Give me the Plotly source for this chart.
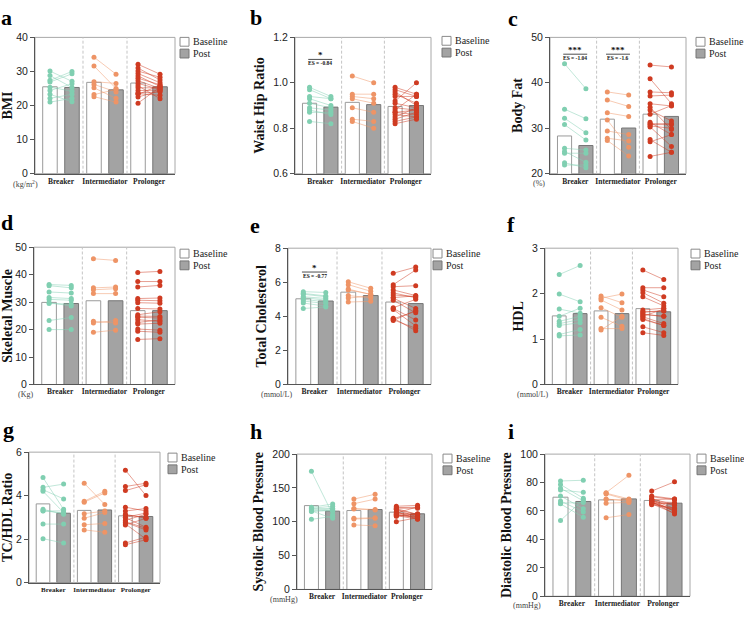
import plotly.graph_objects as go

W, H = 744, 617
groups = ["Breaker", "Intermediator", "Prolonger"]
group_pos = [1, 2, 3]
group_colors = ["#80cfb1", "#ee9466", "#cf3b22"]

# ---- a: BMI ----
bmi_breaker_base = [30.1, 28.8, 27.4, 26.9, 25.4, 24.4, 23.3, 22.1, 21.0]
bmi_breaker_post = [27.1, 25.3, 30.0, 29.3, 24.2, 26.4, 21.1, 23.3, 22.1]
bmi_inter_base = [34.2, 31.6, 27.0, 26.2, 25.2, 23.2, 22.6]
bmi_inter_post = [29.2, 25.0, 26.5, 24.0, 22.1, 24.7, 21.0]
bmi_prol_base = [32.1, 31.0, 30.1, 29.4, 28.7, 28.0, 27.3, 26.5, 25.8, 25.2, 24.4, 23.7, 23.3, 23.5, 22.5, 20.7]
bmi_prol_post = [29.2, 27.5, 28.3, 26.7, 25.6, 26.1, 25.0, 24.7, 22.0, 25.2, 24.5, 24.0, 25.9, 23.0, 24.3, 25.4]
bmi_mean_base = [25.5, 26.8, 26.6]
bmi_mean_post = [25.3, 24.6, 25.5]

# ---- b: Waist Hip Ratio ----
whr_breaker_base = [0.98, 0.97, 0.94, 0.93, 0.91, 0.89, 0.88, 0.87, 0.83]
whr_breaker_post = [0.94, 0.93, 0.93, 0.90, 0.89, 0.88, 0.86, 0.87, 0.82]
whr_inter_base = [1.03, 0.95, 0.94, 0.93, 0.89, 0.84, 0.83]
whr_inter_post = [1.00, 0.95, 0.93, 0.91, 0.87, 0.83, 0.80]
whr_prol_base = [0.98, 0.97, 0.96, 0.95, 0.94, 0.92, 0.91, 0.89, 0.88, 0.87, 0.86, 0.85, 0.84, 0.83, 0.82, 0.87]
whr_prol_post = [0.95, 0.94, 0.90, 0.91, 0.94, 1.00, 0.89, 0.88, 0.95, 0.86, 0.85, 0.89, 0.87, 0.85, 0.84, 0.88]
whr_mean_base = [0.91, 0.914, 0.896]
whr_mean_post = [0.893, 0.904, 0.90]

# ---- c: Body Fat ----
fat_breaker_base = [44.2, 34.2, 32.2, 30.8, 25.6, 24.9, 24.5, 22.4, 21.9]
fat_breaker_post = [38.7, 32.1, 29.0, 27.4, 25.2, 22.5, 24.5, 21.3, 21.9]
fat_inter_base = [38.0, 36.2, 33.4, 31.8, 29.4, 27.8, 27.3]
fat_inter_post = [37.3, 34.8, 32.6, 25.8, 28.6, 27.2, 23.9]
fat_prol_base = [43.9, 40.9, 38.0, 37.1, 35.4, 34.6, 34.0, 33.1, 31.3, 30.8, 30.3, 27.5, 27.0, 23.8, 31.0, 30.5]
fat_prol_post = [43.5, 35.4, 37.8, 37.3, 34.9, 29.7, 31.6, 35.0, 28.6, 30.8, 26.0, 24.7, 28.6, 24.7, 31.0, 30.0]
fat_mean_base = [28.3, 32.0, 33.1]
fat_mean_post = [26.2, 30.05, 32.6]

# ---- d: Skeletal Muscle ----
sm_breaker_base = [36.4, 36.0, 33.7, 31.7, 31.0, 29.8, 29.5, 23.3, 20.0]
sm_breaker_post = [36.1, 35.2, 33.3, 31.3, 30.7, 28.6, 29.3, 24.4, 20.0]
sm_inter_base = [45.8, 35.2, 34.5, 33.1, 23.0, 22.4, 19.0]
sm_inter_post = [45.2, 35.5, 34.9, 33.1, 22.4, 23.3, 19.8]
sm_prol_base = [40.8, 37.5, 35.5, 31.3, 30.7, 29.8, 27.7, 25.4, 24.9, 24.5, 23.6, 22.6, 20.2, 19.4, 16.4, 22.0]
sm_prol_post = [41.2, 37.5, 36.1, 31.5, 30.5, 29.6, 27.5, 26.5, 24.8, 24.2, 23.0, 23.5, 19.8, 19.0, 16.7, 22.3]
sm_mean_base = [29.9, 30.5, 26.9]
sm_mean_post = [29.5, 30.5, 26.9]

# ---- e: Total Cholesterol ----
tc_breaker_base = [5.45, 5.35, 5.30, 5.15, 5.10, 5.00, 4.90, 4.78, 4.46]
tc_breaker_post = [5.40, 5.20, 5.15, 5.05, 4.95, 4.85, 4.75, 4.60, 4.55]
tc_inter_base = [6.03, 5.86, 5.60, 5.55, 5.22, 5.07, 4.84]
tc_inter_post = [5.65, 5.47, 5.28, 5.30, 5.09, 5.20, 4.88]
tc_prol_base = [6.53, 5.86, 5.74, 5.55, 5.38, 5.26, 5.07, 4.94, 4.46, 4.40, 3.89, 3.85, 3.75, 4.50, 5.10, 3.80]
tc_prol_post = [6.89, 6.72, 5.80, 5.22, 5.09, 5.15, 4.46, 4.21, 3.79, 3.44, 3.16, 4.30, 4.35, 5.00, 5.20, 3.30]
tc_mean_base = [5.03, 5.42, 4.84]
tc_mean_post = [4.90, 5.22, 4.75]

# ---- f: HDL ----
hdl_breaker_base = [2.42, 1.99, 1.66, 1.50, 1.39, 1.34, 1.30, 1.10, 1.07]
hdl_breaker_post = [2.62, 1.82, 1.57, 1.68, 1.50, 1.43, 1.36, 1.21, 1.09]
hdl_inter_base = [1.95, 1.90, 1.86, 1.69, 1.48, 1.23, 1.20]
hdl_inter_post = [1.80, 1.99, 1.64, 1.48, 1.28, 1.23, 1.50]
hdl_prol_base = [2.52, 2.13, 2.08, 2.02, 1.93, 1.64, 1.59, 1.54, 1.49, 1.43, 1.27, 1.14, 1.55, 1.60, 1.45, 1.50]
hdl_prol_post = [2.31, 2.13, 1.93, 1.79, 1.73, 1.68, 1.62, 1.50, 1.34, 1.30, 1.14, 1.08, 1.50, 1.62, 1.30, 1.66]
hdl_mean_base = [1.51, 1.62, 1.67]
hdl_mean_post = [1.56, 1.56, 1.60]

# ---- g: TC/HDL Ratio ----
ratio_breaker_base = [4.83, 4.38, 4.27, 4.20, 3.37, 3.29, 3.30, 2.69, 2.02]
ratio_breaker_post = [3.37, 4.53, 3.85, 3.22, 3.14, 3.30, 3.20, 2.69, 1.82]
ratio_inter_base = [4.57, 3.74, 3.70, 3.17, 2.96, 2.66, 2.42]
ratio_inter_post = [3.59, 4.20, 4.12, 3.29, 3.22, 2.72, 2.32]
ratio_prol_base = [5.17, 4.42, 4.23, 3.47, 3.29, 3.14, 2.99, 2.87, 2.77, 2.65, 1.82, 1.74, 3.00, 2.80, 2.70, 3.10]
ratio_prol_post = [4.00, 4.57, 4.50, 3.29, 3.41, 2.96, 2.54, 3.14, 2.42, 2.96, 2.09, 1.97, 3.20, 2.50, 2.00, 3.00]
ratio_mean_base = [3.62, 3.32, 3.07]
ratio_mean_post = [3.19, 3.34, 3.04]

# ---- h: Systolic Blood Pressure ----
sbp_breaker_base = [174.5, 121.4, 120.0, 119.5, 118.0, 116.6, 116.0, 115.0, 103.6]
sbp_breaker_post = [110.8, 126.3, 122.9, 119.5, 115.7, 119.0, 105.1, 117.0, 108.0]
sbp_inter_base = [133.5, 126.7, 119.5, 119.0, 105.1, 104.0, 95.4]
sbp_inter_post = [140.7, 133.5, 118.1, 117.5, 106.0, 105.1, 94.0]
sbp_prol_base = [122.9, 121.0, 119.5, 118.0, 115.0, 113.3, 112.0, 111.0, 110.0, 109.9, 109.0, 108.0, 113.0, 118.0, 100.2, 120.0]
sbp_prol_post = [124.3, 121.4, 110.8, 107.0, 103.6, 110.0, 111.0, 108.0, 106.0, 107.0, 104.0, 112.0, 122.0, 110.8, 106.0, 120.0]
sbp_mean_base = [123.9, 116.6, 114.2]
sbp_mean_post = [115.7, 118.1, 111.8]

# ---- i: Diastolic Blood Pressure ----
dbp_breaker_base = [81.1, 78.6, 76.0, 74.7, 70.6, 67.1, 65.5, 65.0, 53.3]
dbp_breaker_post = [81.6, 69.0, 67.1, 73.1, 61.6, 59.3, 66.0, 55.6, 68.0]
dbp_inter_base = [72.9, 72.5, 68.5, 68.0, 72.0, 55.2, 65.5]
dbp_inter_post = [85.1, 68.5, 66.7, 68.0, 67.5, 57.5, 66.0]
dbp_prol_base = [74.0, 70.6, 68.5, 68.0, 67.5, 66.7, 66.5, 66.0, 65.5, 65.5, 65.0, 64.4, 68.0, 67.0, 66.0, 70.0]
dbp_prol_post = [80.5, 68.5, 64.4, 61.6, 59.8, 57.9, 66.0, 61.0, 60.0, 65.0, 58.5, 62.0, 68.5, 64.0, 60.5, 68.0]
dbp_mean_base = [69.7, 67.8, 67.4]
dbp_mean_post = [66.7, 68.5, 65.5]

# panel configuration (layout in pixels)
panels = [
    dict(letter="a", title="BMI", unit="(kg/m<sup>2</sup>)", yr=[0, 40], dt=10, fmt="",
         box=(35, 175, 32, 171), leg=(180, 32), lpos=(6, 12), upos=(25, 182), xfs=7.5,
         data=[(bmi_breaker_base, bmi_breaker_post), (bmi_inter_base, bmi_inter_post), (bmi_prol_base, bmi_prol_post)],
         means=(bmi_mean_base, bmi_mean_post), sig=[]),
    dict(letter="b", title="Waist Hip Ratio", unit=None, yr=[0.6, 1.2], dt=0.2, fmt=".1f",
         box=(295, 431, 32, 171), leg=(442, 31), lpos=(256, 12), upos=None, xfs=7.5,
         data=[(whr_breaker_base, whr_breaker_post), (whr_inter_base, whr_inter_post), (whr_prol_base, whr_prol_post)],
         means=(whr_mean_base, whr_mean_post), sig=[(0, "*", "ES = -0.84", 1.103)]),
    dict(letter="c", title="Body Fat", unit="(%)", yr=[20, 50], dt=10, fmt="",
         box=(550, 686, 32, 171), leg=(696, 32), lpos=(513, 13), upos=(539, 181), xfs=7.5,
         data=[(fat_breaker_base, fat_breaker_post), (fat_inter_base, fat_inter_post), (fat_prol_base, fat_prol_post)],
         means=(fat_mean_base, fat_mean_post),
         sig=[(0, "***", "ES = -1.04", 46.3), (1, "***", "ES = -1.6", 46.3)]),
    dict(letter="d", title="Skeletal Muscle", unit="(Kg)", yr=[0, 50], dt=10, fmt="",
         box=(34, 175, 246, 386), leg=(180, 248), lpos=(7, 221), upos=(26, 396), xfs=7.5,
         data=[(sm_breaker_base, sm_breaker_post), (sm_inter_base, sm_inter_post), (sm_prol_base, sm_prol_post)],
         means=(sm_mean_base, sm_mean_post), sig=[]),
    dict(letter="e", title="Total Cholesterol", unit="(mmol/L)", yr=[0, 8], dt=2, fmt="",
         box=(288, 431, 247, 386), leg=(433, 248), lpos=(255, 224), upos=(276, 396), xfs=7.5,
         data=[(tc_breaker_base, tc_breaker_post), (tc_inter_base, tc_inter_post), (tc_prol_base, tc_prol_post)],
         means=(tc_mean_base, tc_mean_post), sig=[(0, "*", "ES = -0.77", 6.6)]),
    dict(letter="f", title="HDL", unit="(mmol/L)", yr=[0, 3], dt=1, fmt="",
         box=(545, 678, 247, 386), leg=(691, 248), lpos=(511, 223), upos=(532, 396), xfs=7.5,
         data=[(hdl_breaker_base, hdl_breaker_post), (hdl_inter_base, hdl_inter_post), (hdl_prol_base, hdl_prol_post)],
         means=(hdl_mean_base, hdl_mean_post), sig=[]),
    dict(letter="g", title="TC/HDL Ratio", unit=None, yr=[0, 6], dt=2, fmt="",
         box=(29, 160, 455, 588), leg=(168, 456), lpos=(8, 432), upos=None, xfs=7,
         data=[(ratio_breaker_base, ratio_breaker_post), (ratio_inter_base, ratio_inter_post), (ratio_prol_base, ratio_prol_post)],
         means=(ratio_mean_base, ratio_mean_post), sig=[]),
    dict(letter="h", title="Systolic Blood Pressure", unit="(mmHg)", yr=[0, 200], dt=50, fmt="",
         box=(297, 432, 457, 595), leg=(443, 457), lpos=(256, 434), upos=(284, 605), xfs=7.5,
         data=[(sbp_breaker_base, sbp_breaker_post), (sbp_inter_base, sbp_inter_post), (sbp_prol_base, sbp_prol_post)],
         means=(sbp_mean_base, sbp_mean_post), sig=[]),
    dict(letter="i", title="Diastolic Blood Pressure", unit="(mmHg)", yr=[0, 100], dt=20, fmt="",
         box=(545, 690, 457, 602), leg=(697, 457), lpos=(511, 434), upos=(527, 611), xfs=7.5,
         data=[(dbp_breaker_base, dbp_breaker_post), (dbp_inter_base, dbp_inter_post), (dbp_prol_base, dbp_prol_post)],
         means=(dbp_mean_base, dbp_mean_post), sig=[]),
]

OFF = 0.25
BW = 0.33
SERIF = "Times New Roman, Liberation Serif, Times, serif"
SANS = "Arial, Liberation Sans, Helvetica, sans-serif"


def rgba(hexc, a):
    h = hexc.lstrip("#")
    return "rgba(%d,%d,%d,%s)" % (int(h[0:2], 16), int(h[2:4], 16), int(h[4:6], 16), a)


fig = go.Figure()
shapes = []
annotations = []
layout_axes = {}

for k, p in enumerate(panels):
    n = "" if k == 0 else str(k + 1)
    xa, ya = "x" + n, "y" + n
    mb, mp = p["means"]
    fig.add_trace(go.Bar(x=[g - OFF for g in group_pos], y=mb, width=BW,
                         marker=dict(color="white", line=dict(color="#9a9a9a", width=1)),
                         xaxis=xa, yaxis=ya, showlegend=False, hoverinfo="skip"))
    fig.add_trace(go.Bar(x=[g + OFF for g in group_pos], y=mp, width=BW,
                         marker=dict(color="#a3a3a3", line=dict(color="#767676", width=1)),
                         xaxis=xa, yaxis=ya, showlegend=False, hoverinfo="skip"))
    for gi, (vb, vp) in enumerate(p["data"]):
        col = group_colors[gi]
        lx, ly = [], []
        for b, q in zip(vb, vp):
            lx += [group_pos[gi] - OFF, group_pos[gi] + OFF, None]
            ly += [b, q, None]
        fig.add_trace(go.Scatter(x=lx, y=ly, mode="lines", line=dict(color=rgba(col, 0.55), width=0.9),
                                 xaxis=xa, yaxis=ya, showlegend=False, hoverinfo="skip"))
        fig.add_trace(go.Scatter(x=[group_pos[gi] - OFF] * len(vb) + [group_pos[gi] + OFF] * len(vp),
                                 y=list(vb) + list(vp), mode="markers",
                                 marker=dict(size=5, color=col, line=dict(width=0)),
                                 xaxis=xa, yaxis=ya, showlegend=False))

    x0, x1, y0, y1 = p["box"]
    layout_axes["xaxis" + n] = dict(
        domain=[x0 / W, x1 / W], anchor=ya, range=[0.41, 3.59],
        tickvals=group_pos, ticktext=["<b>%s</b>" % g for g in groups], tickangle=0,
        tickfont=dict(family=SERIF, size=p["xfs"], color="#222"), ticks="",
        showgrid=False, zeroline=False, showline=True, linecolor="#555", linewidth=1)
    yax = dict(
        domain=[1 - y1 / H, 1 - y0 / H], anchor=xa, range=p["yr"], dtick=p["dt"], tick0=p["yr"][0],
        ticks="outside", ticklen=4, tickwidth=1, tickcolor="#555",
        showgrid=False, zeroline=False, showline=True, linecolor="#555", linewidth=1,
        tickfont=dict(family=SANS, size=10.5, color="#222"),
        title=dict(text="<b>%s</b>" % p["title"], font=dict(family=SERIF, size=14, color="#111"), standoff=5))
    if p["fmt"]:
        yax["tickformat"] = p["fmt"]
    layout_axes["yaxis" + n] = yax

    # frame
    shapes.append(dict(type="rect", xref=xa + " domain", yref=ya + " domain", x0=0, x1=1, y0=0, y1=1,
                       line=dict(color="#a8a8a8", width=1), layer="below"))
    # group separators
    for s in [1.5, 2.5]:
        shapes.append(dict(type="line", xref=xa, yref=ya + " domain", x0=s, x1=s, y0=0, y1=1,
                           line=dict(color="#c4c4c4", width=1, dash="3px,2px"), layer="below"))
    # legend
    lx0, ly0 = p["leg"]
    for j, (lab, fc, lc) in enumerate([("Baseline", "white", "#8a8a8a"), ("Post", "#a3a3a3", "#767676")]):
        ty = ly0 + j * 12
        shapes.append(dict(type="rect", xref="paper", yref="paper",
                           x0=lx0 / W, x1=(lx0 + 9) / W, y0=1 - (ty + 9) / H, y1=1 - ty / H,
                           fillcolor=fc, line=dict(color=lc, width=1)))
        annotations.append(dict(text=lab, x=(lx0 + 11) / W, y=1 - (ty + 4.5) / H, xref="paper", yref="paper",
                                xanchor="left", yanchor="middle", showarrow=False,
                                font=dict(family=SERIF, size=10, color="#222")))
    # panel letter
    annotations.append(dict(text="<b>%s</b>" % p["letter"], x=p["lpos"][0] / W, y=1 - p["lpos"][1] / H,
                            xref="paper", yref="paper", xanchor="center", yanchor="middle", showarrow=False,
                            font=dict(family=SERIF, size=22, color="#000")))
    # unit label
    if p["unit"]:
        annotations.append(dict(text=p["unit"], x=p["upos"][0] / W, y=1 - p["upos"][1] / H,
                                xref="paper", yref="paper", xanchor="center", yanchor="middle", showarrow=False,
                                font=dict(family=SERIF, size=8, color="#444")))
    # significance marks
    for gi, stars, es, yv in p["sig"]:
        gx = group_pos[gi]
        shapes.append(dict(type="line", xref=xa, yref=ya, x0=gx - OFF - 0.03, x1=gx + OFF + 0.03, y0=yv, y1=yv,
                           line=dict(color="#222", width=0.8)))
        annotations.append(dict(text="<b>%s</b>" % stars, x=gx, y=yv, xref=xa, yref=ya, xanchor="center",
                                yanchor="bottom", showarrow=False, yshift=-3,
                                font=dict(family=SERIF, size=9, color="#111")))
        annotations.append(dict(text="<b>%s</b>" % es, x=gx, y=yv, xref=xa, yref=ya, xanchor="center",
                                yanchor="top", showarrow=False, yshift=1,
                                font=dict(family=SERIF, size=5.5, color="#111")))

fig.update_layout(
    width=W, height=H, margin=dict(l=0, r=0, t=0, b=0),
    paper_bgcolor="white", plot_bgcolor="white", barmode="overlay",
    font=dict(family=SERIF),
    showlegend=False, shapes=shapes, annotations=annotations, **layout_axes)

fig.write_html("out.html")
